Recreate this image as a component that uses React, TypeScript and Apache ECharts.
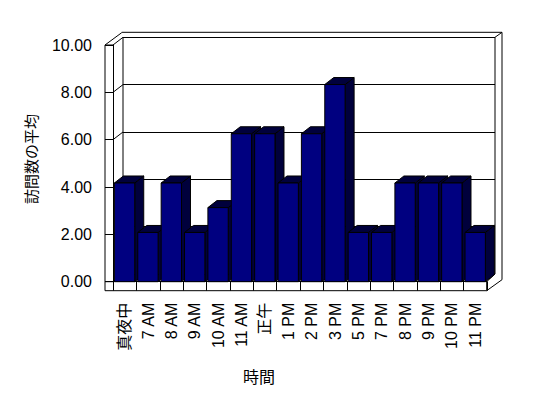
import React, { useEffect, useRef } from "react";
import * as echarts from "echarts";

const categories = ["真夜中", "7 AM", "8 AM", "9 AM", "10 AM", "11 AM", "正午", "1 PM", "2 PM", "3 PM", "5 PM", "7 PM", "8 PM", "9 PM", "10 PM", "11 PM"];
const avgVisits = [4.17, 2.08, 4.17, 2.08, 3.13, 6.25, 6.25, 4.17, 6.25, 8.33, 2.08, 2.08, 4.17, 4.17, 4.17, 2.08];
const yTicks = [0, 2, 4, 6, 8, 10];
const yAxisTitle = "訪問数の平均";
const xAxisTitle = "時間";

const FONT = "'Liberation Sans', Arial, 'Noto Sans CJK JP', sans-serif";

// layout
const L = 113, R = 487, T = 45, B = 281.7;
const DX = 10, DY = -7.7;
const W = 548, H = 398;

export default function App() {
  const ref = useRef<HTMLDivElement>(null);
  useEffect(() => {
    if (!ref.current) return;
    const chart = echarts.init(ref.current, null, { renderer: "svg" });
    const ln = (x1: number, y1: number, x2: number, y2: number) => ({
      type: "line",
      shape: { x1, y1, x2, y2 },
      style: { stroke: "#000", lineWidth: 1 },
      silent: true,
    });
    const backR = R + 8;
    const floorR = R - 0.3;
    chart.setOption({
      animation: false,
      backgroundColor: "#fff",
      grid: [
        { left: L, top: T, width: R - L, height: B - T, containLabel: false },
        { left: L + DX, top: T + DY, width: backR - (L + DX), height: B - T, containLabel: false },
      ],
      xAxis: [
        {
          type: "category",
          gridIndex: 0,
          data: categories,
          boundaryGap: true,
          axisLine: { show: true, lineStyle: { color: "#000", width: 1 } },
          axisTick: { show: true, length: 9, interval: 0, lineStyle: { color: "#000" } },
          axisLabel: { interval: 0, rotate: 90, margin: 21, fontSize: 16, color: "#000", fontFamily: FONT },
          splitLine: { show: false },
        },
        {
          type: "category",
          gridIndex: 1,
          data: categories,
          axisLine: { show: false },
          axisTick: { show: false },
          axisLabel: { show: false },
          splitLine: { show: false },
        },
      ],
      yAxis: [
        {
          type: "value",
          gridIndex: 0,
          min: 0,
          max: 10,
          interval: 2,
          axisLine: { show: true, lineStyle: { color: "#000", width: 1 } },
          axisTick: { show: true, length: 8, lineStyle: { color: "#000" } },
          axisLabel: { margin: 21, fontSize: 16, color: "#000", fontFamily: FONT, formatter: (v: number) => v.toFixed(2) },
          splitLine: { show: false },
        },
        {
          type: "value",
          gridIndex: 1,
          min: 0,
          max: 10,
          interval: 2,
          axisLine: { show: false },
          axisTick: { show: false },
          axisLabel: { show: false },
          splitLine: { show: true, lineStyle: { color: "#000", width: 1 } },
        },
      ],
      series: [
        {
          type: "custom",
          xAxisIndex: 0,
          yAxisIndex: 0,
          encode: { x: 0, y: 1 },
          data: yTicks.map((v) => [0, v]),
          z: 1,
          renderItem: (params: any, api: any) => {
            const v = api.value(1);
            const p = api.coord([0, v]);
            const bw = api.size([1, 0])[0];
            const xl = p[0] - bw / 2;
            return {
              type: "line",
              shape: { x1: xl, y1: p[1], x2: xl + DX, y2: p[1] + DY },
              style: { stroke: "#000", lineWidth: 1 },
            };
          },
        },
        {
          type: "custom",
          name: yAxisTitle,
          xAxisIndex: 0,
          yAxisIndex: 0,
          encode: { x: 0, y: 1 },
          data: avgVisits.map((v, i) => [i, v]),
          z: 3,
          renderItem: (params: any, api: any) => {
            const i = api.value(0);
            const v = api.value(1);
            const base = api.coord([i, 0]);
            const top = api.coord([i, v]);
            const bw = api.size([1, 0])[0];
            const w = bw * 0.87;
            const x0 = base[0] - bw / 2 + 1.4;
            const dx = 9, dy = -7;
            const yt = top[1], yb = base[1];
            const dark = "#00003c";
            const st = { stroke: "#000", lineWidth: 1 };
            return {
              type: "group",
              children: [
                {
                  type: "polygon",
                  shape: { points: [[x0 + w, yt], [x0 + w + dx, yt + dy], [x0 + w + dx, yb + dy], [x0 + w, yb]] },
                  style: { fill: dark, ...st },
                },
                {
                  type: "polygon",
                  shape: { points: [[x0, yt], [x0 + dx, yt + dy], [x0 + w + dx, yt + dy], [x0 + w, yt]] },
                  style: { fill: dark, ...st },
                },
                {
                  type: "rect",
                  shape: { x: x0, y: yt, width: w, height: yb - yt },
                  style: { fill: "#000080", ...st },
                },
              ],
            };
          },
        },
      ],
      graphic: [
        // left wall
        ln(L - 8, T, L - 8, B + 9),
        ln(L - 8, T, L, T),
        ln(L - 8, T, L + 8.7, T - 12.3),
        ln(L + DX, T + DY, L + DX, B + DY),
        // back wall top & right
        ln(L + 8.7, T - 12.7, backR + 7, T - 12.7),
        ln(backR, T + DY, backR, B + DY),
        ln(backR + 7, T - 12.7, backR + 7, B - 2),
        ln(backR, T + DY, backR + 7, T - 12.7),
        // floor
        ln(L - 8, B, L, B),
        ln(L - 8, B + 9, floorR, B + 9),
        ln(floorR, B, floorR, B + 9),
        ln(floorR, B, backR, B + DY),
        ln(floorR, B + 9, backR + 7, B - 2),
        {
          type: "text",
          x: 30,
          y: 159,
          rotation: Math.PI / 2,
          style: {
            text: yAxisTitle,
            fontSize: 15,
            fontFamily: "'Noto Sans CJK JP', sans-serif",
            fill: "#000",
            align: "center",
            verticalAlign: "middle",
          },
        },
        {
          type: "text",
          x: 259,
          y: 376,
          style: {
            text: xAxisTitle,
            fontSize: 16,
            fontFamily: "'Noto Sans CJK JP', sans-serif",
            fill: "#000",
            align: "center",
            verticalAlign: "middle",
          },
        },
      ],
    });
    return () => chart.dispose();
  }, []);
  return <div ref={ref} style={{ position: "fixed", left: 0, top: 0, width: W, height: H }} />;
}
